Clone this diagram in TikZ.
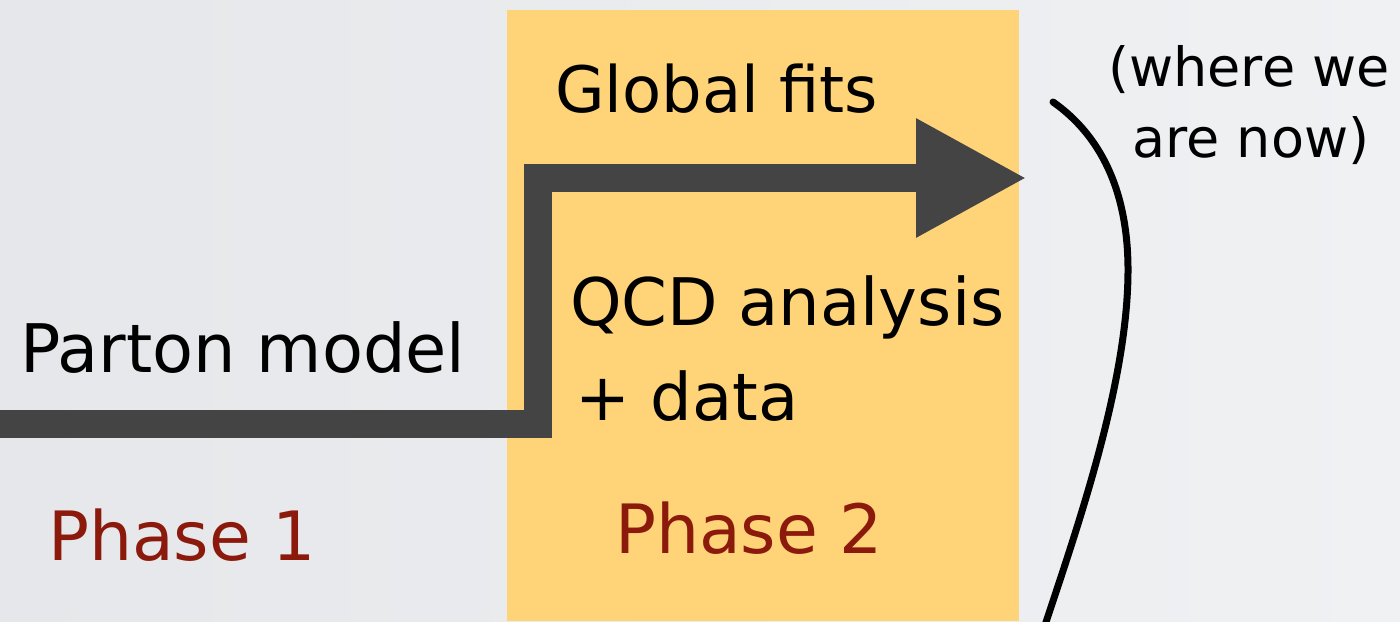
\documentclass[tikz,border=0pt]{standalone}
\usepackage{fontspec}
\setmainfont{DejaVu Sans}
\usetikzlibrary{arrows.meta}

\definecolor{bgleft}{HTML}{E5E7EA}
\definecolor{bgright}{HTML}{EFF1F3}
\definecolor{phasebox}{HTML}{FFD479}
\definecolor{flowgray}{HTML}{444444}
\definecolor{phasered}{HTML}{8B1A0C}

\begin{document}
\begin{tikzpicture}[x=0.5pt, y=-0.5pt,
  label/.style={inner sep=0pt, outer sep=0pt, anchor=base west,
                font=\fontsize{32}{38}\selectfont, text=black},
  phaselabel/.style={label, font=\fontsize{34}{40}\selectfont, text=phasered},
  note/.style={inner sep=0pt, outer sep=0pt, anchor=base,
               font=\fontsize{27}{32}\selectfont, text=black},
  flow/.style={draw=flowgray, line width=14pt, line cap=butt, line join=miter,
               -{Triangle[length=55.5pt, width=55.5pt]}},
  brace/.style={draw=black, line width=3.5pt, line cap=round}]

  % backdrop
  \shade[left color=bgleft, right color=bgright] (0,0) rectangle (1400,621);
  \useasboundingbox (0,0) rectangle (1400,621);

  % second phase panel
  \node[fill=phasebox, inner sep=0pt, outer sep=0pt, anchor=north west,
        minimum width=256pt, minimum height=305.5pt] (panel) at (507,10) {};

  % progression arrow
  \coordinate (start) at (0,424);
  \coordinate (bend) at (538,424);
  \coordinate (tip) at (1027,178);
  \draw[flow] (start) -- (bend) |- (tip);

  % labels
  \node[label, font=\fontsize{33.5}{40}\selectfont] (parton) at (20,372) {Parton model};
  \node[label] (global) at (555,112) {Global fits};
  \node[label, font=\fontsize{32.8}{40}\selectfont] (qcd) at (570,325) {QCD analysis};
  \node[label, font=\fontsize{32.8}{40}\selectfont] (data) at (575,420) {+ data};
  \node[phaselabel] (phase1) at (48,560) {Phase 1};
  \node[phaselabel] (phase2) at (615,553) {Phase 2};
  \node[note] (where) at (1249,86) {(where we};
  \node[note] (now) at (1251,157) {are now)};

  % bracket marking the present
  \coordinate (btop) at (1053,102);
  \coordinate (bmid) at (1128,270);
  \coordinate (bbot) at (1045,625);
  \draw[brace] (btop) .. controls (1100,135) and (1128,190) .. (bmid)
               .. controls (1128,380) and (1080,520) .. (bbot);
\end{tikzpicture}
\end{document}
